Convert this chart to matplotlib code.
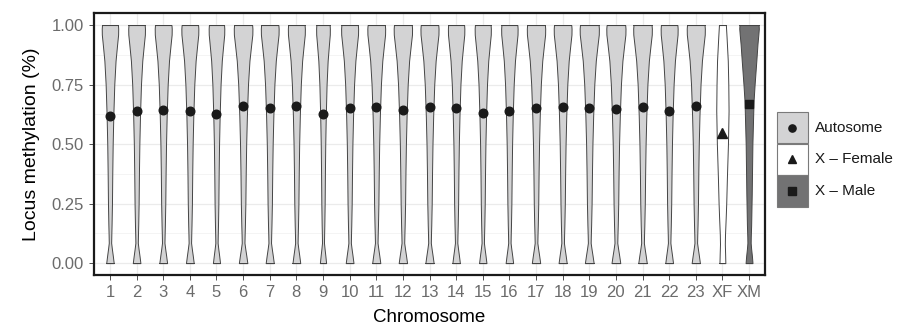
from matplotlib import pyplot as plt
from matplotlib.patches import Rectangle
import numpy as np

plt.rcParams['font.family'] = ['Liberation Sans', 'DejaVu Sans']

chromosomes = [str(i) for i in range(1, 24)] + ['XF', 'XM']
groups = ['Autosome'] * 23 + ['X - Female', 'X - Male']

# mean methylation per chromosome (the dots)
means = [0.620, 0.640, 0.643, 0.638, 0.625, 0.660, 0.650, 0.660, 0.627,
         0.652, 0.655, 0.645, 0.657, 0.650, 0.632, 0.638, 0.652, 0.655,
         0.652, 0.648, 0.655, 0.637, 0.660, 0.545, 0.670]

# violin width at the top (in category units)
top_width = [0.60, 0.61, 0.62, 0.62, 0.57, 0.68, 0.65, 0.62, 0.50,
             0.62, 0.65, 0.67, 0.66, 0.60, 0.59, 0.60, 0.67, 0.65,
             0.70, 0.70, 0.68, 0.62, 0.66, 0.26, 0.72]

# violin outlines: y levels and relative half widths (1 = top)
auto_y = [1.00, 0.985, 0.96, 0.92, 0.85, 0.75, 0.62, 0.50, 0.38, 0.25,
          0.16, 0.12, 0.085, 0.06, 0.03, 0.00]
auto_w = [1.00, 1.03, 1.02, 0.90, 0.70, 0.54, 0.42, 0.34, 0.29, 0.25,
          0.20, 0.17, 0.15, 0.24, 0.36, 0.47]

xf_y = [1.00, 0.95, 0.85, 0.75, 0.64, 0.50, 0.36, 0.25, 0.19, 0.12,
        0.08, 0.04, 0.00]
xf_w = [1.00, 1.20, 1.55, 1.70, 1.78, 1.60, 1.30, 1.10, 0.95, 0.75,
        0.70, 0.78, 0.85]

xm_y = [1.00, 0.985, 0.96, 0.92, 0.85, 0.75, 0.68, 0.50, 0.38, 0.29,
        0.16, 0.11, 0.085, 0.06, 0.03, 0.00]
xm_w = [1.00, 1.02, 0.97, 0.88, 0.76, 0.58, 0.47, 0.35, 0.31, 0.28,
        0.22, 0.18, 0.17, 0.22, 0.30, 0.36]

profiles = {'Autosome': (auto_y, auto_w),
            'X - Female': (xf_y, xf_w),
            'X - Male': (xm_y, xm_w)}
fills = {'Autosome': '#d3d3d4', 'X - Female': '#ffffff', 'X - Male': '#727273'}
markers = {'Autosome': 'o', 'X - Female': '^', 'X - Male': 's'}
msizes = {'Autosome': 6.2, 'X - Female': 7, 'X - Male': 6}
legend_ms = {'Autosome': 5.2, 'X - Female': 6.2, 'X - Male': 5.4}
legend_labels = ['Autosome', 'X \u2013 Female', 'X \u2013 Male']
edge = '#444444'

fig = plt.figure(figsize=(9.09, 3.29), dpi=100)
ax = fig.add_axes([0.1034, 0.164, 0.7382, 0.796])

for i, (chrom, grp) in enumerate(zip(chromosomes, groups)):
    xpos = i + 1
    yy, ww = profiles[grp]
    half = np.array(ww) * top_width[i] / 2
    ax.fill_betweenx(yy, xpos - half, xpos + half, facecolor=fills[grp],
                     edgecolor=edge, linewidth=0.7, zorder=3)
    ax.plot([xpos - half[0], xpos + half[0]], [1, 1], color=edge,
            lw=0.7, zorder=3)
    ax.plot([xpos - half[-1], xpos + half[-1]], [0, 0], color=edge,
            lw=0.7, zorder=3)
    ax.plot(xpos, means[i], marker=markers[grp], ms=msizes[grp],
            color='#1a1a1a', mec='#1a1a1a', zorder=4)

ax.set_xlim(0.4, 25.6)
ax.set_ylim(-0.05, 1.05)
ax.set_xticks(range(1, 26))
ax.set_xticklabels(chromosomes)
ax.set_yticks([0, 0.25, 0.5, 0.75, 1.0])
ax.set_yticklabels(['0.00', '0.25', '0.50', '0.75', '1.00'])
ax.set_yticks([0.125, 0.375, 0.625, 0.875], minor=True)
ax.grid(which='major', color='#ebebeb', lw=0.9, zorder=0)
ax.grid(which='minor', axis='y', color='#f2f2f2', lw=0.6, zorder=0)
ax.set_axisbelow(True)
ax.tick_params(which='major', length=3.5, width=0.7, color='#4d4d4d',
               labelcolor='#6b6b6b', labelsize=12, pad=4)
ax.tick_params(which='minor', length=0)
for sp in ax.spines.values():
    sp.set_linewidth(1.6)
    sp.set_color('#1a1a1a')
ax.set_xlabel('Chromosome', fontsize=13.5, labelpad=6)
ax.set_ylabel('Locus methylation (%)', fontsize=14, labelpad=8)

# legend keys drawn as boxes in figure pixels
W, H = 909, 329
for k, grp in enumerate(['Autosome', 'X - Female', 'X - Male']):
    top = 112 + k * 31.7
    fig.patches.append(Rectangle((777 / W, 1 - (top + 31.2) / H), 30.5 / W,
                                 31.2 / H, transform=fig.transFigure,
                                 facecolor=fills[grp], edgecolor='#7a7a7a',
                                 lw=0.8))
    fig.lines.append(plt.Line2D([792.2 / W], [1 - (top + 15.6) / H],
                                transform=fig.transFigure,
                                marker=markers[grp], ms=legend_ms[grp],
                                color='#1a1a1a', linestyle='none'))
    fig.text(815 / W, 1 - (top + 15.6) / H, legend_labels[k], fontsize=11,
             va='center', ha='left', color='#1a1a1a')

fig.savefig('out.png', dpi=100)
